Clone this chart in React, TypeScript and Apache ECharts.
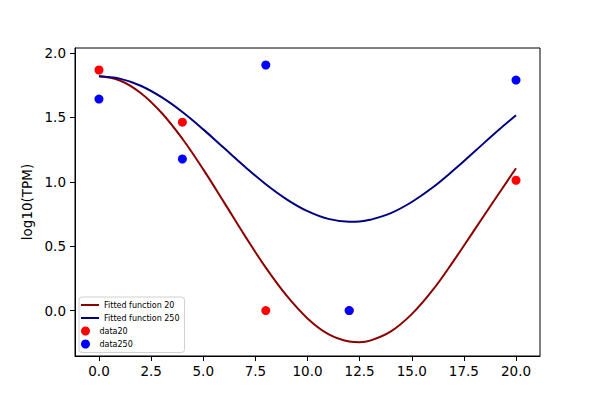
import { useEffect, useRef } from 'react';
import * as echarts from 'echarts';

// fitted curves (integer x plus the bottom of the dip)
const fitX = [0, 1, 2, 3, 4, 5, 6, 7, 8, 9, 10, 11, 12, 12.5, 13, 14, 15, 16, 17, 18, 19, 20];
const fit20 = [1.82, 1.787, 1.69, 1.536, 1.334, 1.096, 0.84, 0.58, 0.333, 0.115, -0.061, -0.183, -0.24, -0.246, -0.234, -0.162, -0.028, 0.158, 0.384, 0.625, 0.866, 1.105];
const fit250 = [1.82, 1.801, 1.746, 1.657, 1.542, 1.407, 1.262, 1.117, 0.981, 0.864, 0.772, 0.712, 0.69, 0.692, 0.705, 0.757, 0.843, 0.955, 1.089, 1.233, 1.379, 1.517];

// measured points
const sampleX = [0, 4, 8, 12, 20];
const data20 = [1.868, 1.463, 0.0, 0.0, 1.012];
const data250 = [1.642, 1.177, 1.907, 0.0, 1.79];

const xTicks = [0, 2.5, 5, 7.5, 10, 12.5, 15, 17.5, 20];
const yTicks = [0, 0.5, 1, 1.5, 2];

const font = 'DejaVu Sans';

export default function App() {
  const chartRef = useRef<HTMLDivElement>(null);

  useEffect(() => {
    if (!chartRef.current) return;
    document.body.style.margin = '0';
    const chart = echarts.init(chartRef.current, undefined, { renderer: 'svg' });

    const pairs = (xs: number[], ys: number[]) => xs.map((x, i) => [x, ys[i]]);

    const option: echarts.EChartsOption = {
      animation: false,
      backgroundColor: '#ffffff',
      textStyle: { fontFamily: font },
      grid: {
        left: 75,
        top: 48,
        width: 465,
        height: 308,
        show: true,
        borderColor: '#000',
        borderWidth: 1,
        backgroundColor: 'transparent',
      },
      xAxis: {
        type: 'value',
        min: -1.15,
        max: 21.15,
        axisLine: { show: true, onZero: false, lineStyle: { color: '#000', width: 1 } },
        axisTick: { show: true, length: 5, lineStyle: { color: '#000' }, customValues: xTicks },
        axisLabel: {
          color: '#000',
          fontSize: 13.5,
          fontFamily: font,
          margin: 8,
          customValues: xTicks,
          formatter: (v: number) => v.toFixed(1),
        },
        splitLine: { show: false },
      },
      yAxis: {
        type: 'value',
        min: -0.353,
        max: 2.039,
        name: 'log10(TPM)',
        nameLocation: 'middle',
        nameGap: 38,
        nameTextStyle: { color: '#000', fontSize: 13.5, fontFamily: font },
        axisLine: { show: true, onZero: false, lineStyle: { color: '#000', width: 1 } },
        axisTick: { show: true, length: 5, lineStyle: { color: '#000' }, customValues: yTicks },
        axisLabel: {
          color: '#000',
          fontSize: 13.5,
          fontFamily: font,
          margin: 9,
          customValues: yTicks,
          formatter: (v: number) => v.toFixed(1),
        },
        splitLine: { show: false },
      },
      legend: [
        {
          orient: 'vertical',
          left: 81,
          top: 300,
          padding: 0,
          itemGap: 3,
          itemWidth: 18,
          itemHeight: 2,
          icon: 'rect',
          textStyle: { fontSize: 8, lineHeight: 10, color: '#000', fontFamily: font },
          data: ['Fitted function 20', 'Fitted function 250'],
        },
        {
          orient: 'vertical',
          left: 81,
          top: 326,
          padding: 0,
          itemGap: 3,
          itemWidth: 18,
          itemHeight: 9,
          icon: 'circle',
          textStyle: { fontSize: 8, lineHeight: 10, color: '#000', fontFamily: font },
          data: ['data20', 'data250'],
        },
      ],
      graphic: [
        {
          type: 'rect',
          z: 3,
          shape: { x: 79, y: 297, width: 105.5, height: 55.5, r: 3 },
          style: { fill: 'rgba(255,255,255,0.8)', stroke: '#d0d0d0', lineWidth: 1 },
        },
      ],
      series: [
        {
          name: 'Fitted function 20',
          type: 'line',
          data: pairs(fitX, fit20),
          smooth: 0.4,
          showSymbol: false,
          color: '#8b0000',
          lineStyle: { color: '#8b0000', width: 2 },
          z: 2,
        },
        {
          name: 'Fitted function 250',
          type: 'line',
          data: pairs(fitX, fit250),
          smooth: 0.4,
          showSymbol: false,
          color: '#000080',
          lineStyle: { color: '#000080', width: 2 },
          z: 2,
        },
        {
          name: 'data20',
          type: 'scatter',
          data: pairs(sampleX, data20),
          symbolSize: 9,
          itemStyle: { color: '#ff0000', opacity: 1 },
          z: 3,
        },
        {
          name: 'data250',
          type: 'scatter',
          data: pairs(sampleX, data250),
          symbolSize: 9,
          itemStyle: { color: '#0000ff', opacity: 1 },
          z: 4,
        },
      ],
    };

    chart.setOption(option);
    return () => chart.dispose();
  }, []);

  return <div ref={chartRef} style={{ width: '600px', height: '400px' }} />;
}
